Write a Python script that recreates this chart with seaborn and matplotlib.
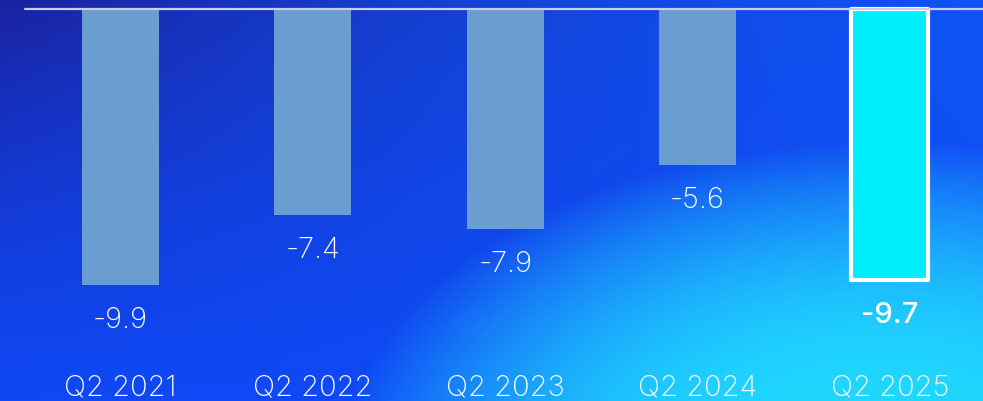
import numpy as np
import matplotlib
matplotlib.use("Agg")
import matplotlib.pyplot as plt
import seaborn as sns
import pandas as pd

quarters = ["Q2 2021", "Q2 2022", "Q2 2023", "Q2 2024", "Q2 2025"]
values = [-9.9, -7.4, -7.9, -5.6, -9.7]
value_labels = ["-9.9", "-7.4", "-7.9", "-5.6", "-9.7"]
bar_colors = ["#6a9dd2", "#6a9dd2", "#6a9dd2", "#6a9dd2", "#00eeff"]

sns.set_style("white")
plt.rcParams['font.family'] = ['Inter', 'DejaVu Sans']

W, H = 983, 401
fig = plt.figure(figsize=(W / 100, H / 100), dpi=100)

# background gradient
bg = fig.add_axes([0, 0, 1, 1])
xs = np.linspace(0, 1, W)
ys = np.linspace(0, 1, H)
X, Y = np.meshgrid(xs, ys)
TL = np.array([26, 34, 160]) / 255
TR = np.array([15, 96, 240]) / 255
BL = np.array([15, 72, 240]) / 255
BR = np.array([16, 80, 250]) / 255
base = ((1 - X)[..., None] * (1 - Y)[..., None] * TL + X[..., None] * (1 - Y)[..., None] * TR
        + (1 - X)[..., None] * Y[..., None] * BL + X[..., None] * Y[..., None] * BR)
tl_w = np.clip(1 - np.sqrt((X * 1.2) ** 2 + (Y * 1.0) ** 2), 0, 1)
mid = np.array([16, 72, 248]) / 255
base = base * (1 - (1 - tl_w)[..., None] * 0.5) + mid * ((1 - tl_w)[..., None] * 0.5)
px = X * W
py = Y * H
d = np.sqrt((0.85 * (px - 880)) ** 2 + (1.4 * (py - 470)) ** 2)
amt = np.clip(1 - (np.clip(d - 100, 0, None) / 360) ** 2, 0, 1)
cyan = np.array([32, 215, 255]) / 255
img = base * (1 - amt[..., None]) + cyan * amt[..., None]
bg.imshow(img, aspect='auto', extent=[0, 1, 1, 0])
bg.set_axis_off()

ax_left = 25 / W
ax_bottom = (H - 366) / H
ax_top = (H - 9) / H
ax = fig.add_axes([ax_left, ax_bottom, 1 - ax_left, ax_top - ax_bottom])
ax.patch.set_alpha(0)

df = pd.DataFrame({"quarter": quarters, "value": values})
sns.barplot(data=df, x="quarter", y="value", hue="quarter", palette=bar_colors,
            legend=False, width=0.4, ax=ax, saturation=1, edgecolor="none")

last = ax.patches[-1]
last.set_edgecolor("white")
last.set_linewidth(3.0)
last.set_joinstyle("round")
last.set_clip_on(False)

ax.set_xlim(-0.497, 4.485)
ax.set_ylim(-12.8, 0)
ax.axhline(0, color="#c8cdea", lw=1.6, zorder=5, clip_on=False)

for i, (v, lab) in enumerate(zip(values, value_labels)):
    last_bar = i == len(values) - 1
    ax.annotate(lab, xy=(i, v), xytext=(0, -15.5 if not last_bar else -16.5),
                textcoords="offset points", ha="center", va="top",
                color="white", fontsize=21,
                fontweight="medium" if last_bar else "light")

ax.set_xlabel("")
ax.set_ylabel("")
ax.set_yticks([])
ax.tick_params(axis="x", length=0, pad=6, labelsize=21, labelcolor="white")
for t in ax.get_xticklabels():
    t.set_fontweight("light")
for s in ax.spines.values():
    s.set_visible(False)

fig.savefig("out.png", dpi=100)
